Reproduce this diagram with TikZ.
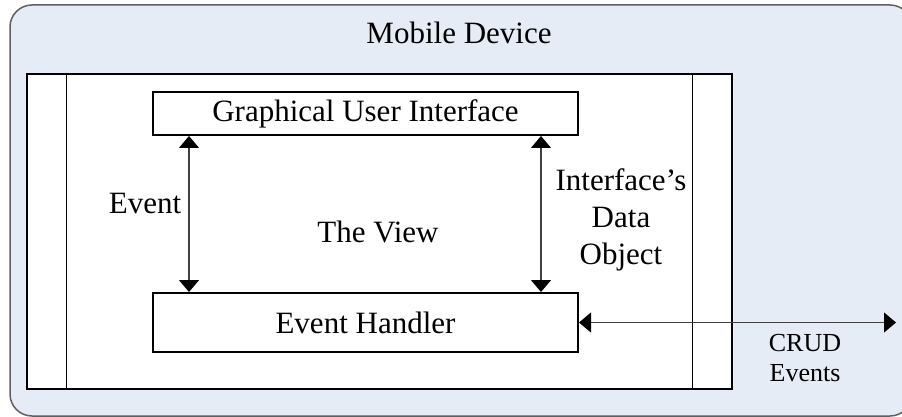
\documentclass[tikz,border=0pt]{standalone}
\usepackage{fontspec}
\setmainfont{Liberation Serif}
\usetikzlibrary{arrows.meta}
\definecolor{devfill}{RGB}{230,236,246}
\definecolor{devline}{RGB}{96,96,96}
\definecolor{shaft}{RGB}{64,64,64}
\begin{document}
\begin{tikzpicture}[x=1pt, y=-1pt,
  >={Triangle[width=20pt,length=12pt,color=black]},
  lbl/.style={font=\fontsize{31}{37}\selectfont, inner sep=0pt},
  small/.style={font=\fontsize{26}{30}\selectfont, inner sep=0pt, align=center},
  box/.style={draw=black, line width=2pt, fill=white, minimum width=425pt, inner sep=0pt,
    font=\fontsize{31}{37}\selectfont},
  flow/.style={<->, draw=shaft, line width=1.2pt}]
\useasboundingbox (0,0) rectangle (902,417);
\clip (0,0) rectangle (902,417);
% the device, runs off the right edge
\node[draw=devline, fill=devfill, line width=1.5pt, rounded corners=22pt,
  minimum width=902pt, minimum height=411pt, inner sep=0pt] (device) at (461,210.5) {};
\node[lbl, anchor=base] (devtitle) at (459,44) {Mobile Device};
% the view, with its two side bars
\node[draw=black, line width=1.2pt, fill=white, minimum width=705pt, minimum height=315pt,
  inner sep=0pt] (view) at (379.5,231.5) {};
\draw[line width=1.2pt] ([xshift=40pt]view.north west) -- ([xshift=40pt]view.south west);
\draw[line width=1.2pt] ([xshift=-40pt]view.north east) -- ([xshift=-40pt]view.south east);
% GUI and handler
\node[box, minimum height=43pt] (gui) at (365.5,113.5) {Graphical User Interface};
\node[box, minimum height=59pt] (eh) at (365.5,322.5) {Event Handler};
\draw[flow] ([xshift=37pt]gui.south west) -- ([xshift=37pt]eh.north west);
\draw[flow] ([xshift=-38pt]gui.south east) -- ([xshift=-38pt]eh.north east);
\coordinate (ext) at (896,322.5);
\draw[flow] (eh.east) -- (ext);
% labels
\node[lbl, anchor=base] (evt) at (145,213) {Event};
\node[lbl, anchor=base] (viewlbl) at (378,242) {The View};
\node[lbl, align=center] (ido) at (621,220) {Interface's\\Data\\Object};
\node[small] (crud) at (805,358.5) {CRUD\\Events};
\end{tikzpicture}
\end{document}
